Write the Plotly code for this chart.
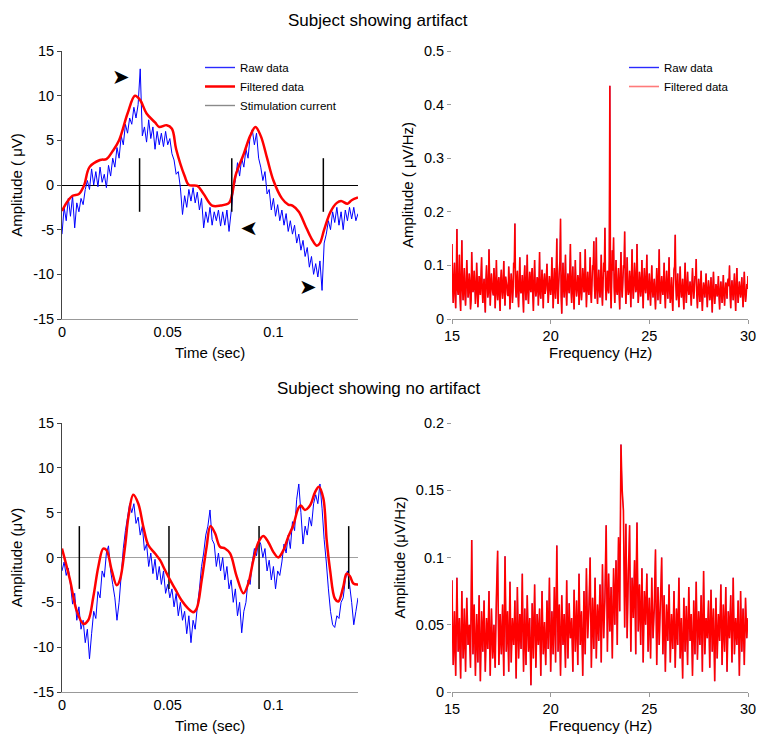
import numpy as np
import plotly.graph_objects as go

# ---------------- DATA ----------------
# Top-left: subject showing artifact (time series, 1 ms steps 0..0.140 s)
raw_top = [-5.5, -2.5, -4.0, -1.5, -3.5, -1.2, -4.8, -2.0, -3.0, -1.5,
           -2.2, -0.5, 0.5, -0.5, 1.8, 0.0, 1.5, -0.2, 2.0, 0.3,
           1.2, -0.3, 2.2, 1.0, 3.0, 2.0, 4.2, 3.0, 5.5, 4.5,
           6.8, 5.8, 7.5, 6.8, 8.7, 7.5, 9.0, 13.0, 5.5, 6.5,
           4.8, 7.3, 5.2, 6.5, 4.0, 6.0, 4.5, 5.8, 4.3, 6.0,
           4.5, 5.2, 3.5, 2.8, 1.2, 1.5, -0.3, -3.3, -1.2, -2.5,
           -0.5, -1.8, -0.3, -2.0, -0.8, -2.8, -1.5, -4.8, -3.0, -4.2,
           -2.5, -4.5, -3.0, -4.0, -2.8, -4.6, -3.0, -4.5, -2.8, -5.2,
           -3.0, -0.5, 0.5, 2.5, 1.0, 3.0, 2.0, 4.0, 3.0, 5.5,
           6.2, 4.5, 5.8, 3.0, 2.0, 0.5, 1.5, -1.0, -0.5, -2.8,
           -1.5, -3.5, -2.2, -4.0, -2.8, -4.5, -3.2, -5.2, -4.0, -5.5,
           -4.5, -6.5, -5.5, -7.3, -6.2, -8.0, -7.0, -9.2, -8.0, -10.0,
           -8.8, -10.3, -8.5, -11.8, -6.5, -5.5, -4.0, -5.0, -3.0, -4.2,
           -2.5, -4.5, -3.0, -5.0, -2.8, -4.0, -2.5, -3.8, -2.5, -4.0,
           -3.2]
filt_top_t = [0.0, 0.0024, 0.005, 0.008, 0.0105, 0.013, 0.018, 0.021, 0.024, 0.027,
              0.031, 0.0345, 0.037, 0.040, 0.044, 0.046, 0.0495, 0.052, 0.054, 0.058,
              0.060, 0.064, 0.067, 0.071, 0.075, 0.079, 0.0805, 0.082, 0.086, 0.089,
              0.0915, 0.094, 0.097, 0.100, 0.104, 0.107, 0.109, 0.112, 0.115, 0.118,
              0.1205, 0.122, 0.124, 0.127, 0.130, 0.132, 0.135, 0.137, 0.140]
filt_top_v = [-2.9, -1.9, -1.2, -1.0, 0.0, 2.0, 2.8, 2.9, 3.8, 5.0,
              8.0, 10.0, 9.5, 8.0, 7.0, 6.5, 6.7, 6.3, 4.0, 1.0,
              0.0, -0.1, -1.0, -2.3, -2.3, -2.0, -1.0, 1.0, 3.5, 5.5,
              6.5, 5.5, 3.0, 0.5, -1.5, -2.2, -2.3, -3.0, -4.5, -6.0,
              -6.8, -6.5, -5.0, -3.0, -2.0, -1.8, -2.1, -1.7, -1.4]
stim_times_top = [0.0367, 0.0803, 0.1236]
stim_amp_top = [3.0, 3.0, 3.0]
arrow_t_top = [0.0279, 0.0882, 0.1165]
arrow_v_top = [12.1, -4.9, -11.4]
arrow_dir_top = [0, 180, 0]

# Bottom-left: subject showing no artifact
raw_bot = [-1.5, -0.5, -2.0, -1.2, -3.0, -5.2, -4.0, -7.0, -5.5, -8.0,
           -7.0, -9.5, -8.0, -11.3, -8.5, -6.0, -6.8, -3.8, -4.5, -1.5,
           -2.2, 0.5, 1.3, -1.5, -3.0, -4.5, -7.0, -5.0, -2.0, 1.0,
           3.0, 4.5, 6.0, 5.0, 6.0, 3.8, 4.5, 2.5, 3.5, 0.8,
           1.5, -1.0, 0.5, -1.8, -0.2, -2.5, -1.0, -3.0, -1.5, -4.0,
           -3.0, -4.5, -3.5, -5.5, -4.0, -6.5, -5.0, -7.0, -6.0, -8.5,
           -6.5, -9.5, -7.0, -8.0, -5.5, -3.5, -1.0, 0.5, 2.5, 3.5,
           5.3, 2.0, 1.5, -1.0, 0.5, -1.5, 0.0, -2.5, -1.0, -3.5,
           -2.5, -5.0, -3.5, -6.5, -5.0, -8.4, -6.0, -5.0, -2.5, -3.0,
           -0.5, 1.0, 0.2, 2.0, 1.5, 0.0, 1.0, -1.5, -0.3, -2.5,
           -1.0, -3.5, -1.5, -2.0, -0.5, 1.5, 0.5, 2.5, 1.0, 4.0,
           3.0, 6.5, 8.2, 5.0, 1.5, 3.5, 2.5, 4.5, 3.5, 6.0,
           7.0, 6.0, 8.2, 5.5, 2.0, -0.5, -3.5, -6.0, -7.5, -7.8,
           -6.5, -6.8, -5.0, -4.5, -2.5, -1.5, -3.0, -5.0, -7.5, -6.0,
           -4.5]
filt_bot_t = [0.0, 0.0038, 0.0069, 0.0101, 0.0124, 0.0148, 0.0172, 0.0195, 0.0211, 0.0235,
              0.0259, 0.0274, 0.0298, 0.0314, 0.0337, 0.0361, 0.0385, 0.0408, 0.044, 0.0464,
              0.0487, 0.0511, 0.0535, 0.0566, 0.0597, 0.0621, 0.0637, 0.0661, 0.0684, 0.0702,
              0.0724, 0.0747, 0.0771, 0.0795, 0.0826, 0.0858, 0.0881, 0.0905, 0.0929, 0.0952,
              0.0976, 0.100, 0.1023, 0.1047, 0.107, 0.1094, 0.1118, 0.113, 0.1149, 0.1173,
              0.1197, 0.1215, 0.1236, 0.1252, 0.1268, 0.1291, 0.1307, 0.133, 0.1346, 0.1362,
              0.1378, 0.140]
filt_bot_v = [1.0, -2.5, -5.9, -7.4, -7.0, -4.4, -1.0, 1.0, 0.8, -1.4,
              -3.1, -2.5, 1.2, 4.5, 7.0, 6.0, 3.4, 1.4, 0.45, -0.3,
              -1.4, -2.5, -3.5, -4.8, -5.7, -6.1, -5.7, -2.5, 1.2, 3.5,
              2.7, 1.2, 1.0, 0.45, -2.1, -4.0, -2.9, -0.3, 1.7, 2.4,
              1.7, 0.6, 0.0, 0.8, 2.3, 3.6, 5.5, 5.8, 5.3, 5.8,
              7.3, 7.9, 6.6, 1.9, -1.4, -4.6, -4.9, -3.3, -1.8, -2.1,
              -2.9, -3.0]
stim_times_bot = [0.0082, 0.0506, 0.0932, 0.1356]
stim_amp_bot = [3.5, 3.5, 3.5, 3.5]

# Spectra, 15-30 Hz (uV/Hz): even bins (..._even) and the bins between them (..._odd)
spec_top_even = [.140, .030, .105, .020, .168, .045, .120, .015, .147, .035, .095, .025, .110, .040, .085, .018, .125, .050, .090, .028,
                 .105, .022, .080, .045, .115, .030, .075, .012, .100, .040, .130, .025, .085, .050, .095, .020, .110, .035, .078, .015,
                 .092, .038, .108, .025, .070, .045, .098, .018, .085, .030, .105, .178, .040, .090, .022, .115, .048, .082, .012, .100,
                 .035, .120, .028, .088, .050, .095, .015, .110, .042, .078, .025, .125, .038, .092, .020, .085, .055, .103, .030, .080,
                 .045, .115, .020, .095, .038, .150, .028, .090, .187, .010, .105, .040, .120, .025, .085, .048, .140, .030, .098, .018,
                 .110, .042, .082, .026, .125, .035, .095, .050, .130, .022, .088, .045, .115, .030, .100, .145, .038, .152, .028, .092,
                 .040, .120, .025, .105, .170, .035, .090, .048, .435, .020, .128, .152, .030, .110, .045, .095, .018, .125, .040, .100,
                 .163, .028, .115, .045, .090, .022, .130, .038, .105, .050, .140, .030, .088, .042, .110, .020, .095, .048, .120, .035,
                 .085, .025, .100, .040, .075, .018, .095, .035, .130, .028, .080, .045, .105, .020, .090, .038, .115, .030, .078, .015,
                 .092, .157, .035, .085, .022, .098, .040, .075, .018, .105, .030, .088, .045, .070, .025, .095, .038, .080, .112, .020,
                 .075, .032, .090, .015, .068, .040, .085, .022, .072, .035, .078, .012, .088, .028, .065, .042, .080, .018, .070, .030,
                 .082, .025, .068, .038, .075, .100, .020, .072, .035, .085, .015, .095, .030, .070, .040, .078, .022, .088, .032, .065,
                 .080]
spec_top_odd = [.060, .072, .048, .085, .055, .066, .040, .078, .058, .070, .045, .062, .075, .052, .068, .035, .080, .057, .064, .050,
                .070, .046, .062, .081, .053, .059, .038, .072, .066, .049, .077, .056, .063, .044, .071, .058, .052, .068, .041, .074,
                .055, .067, .049, .079, .061, .043, .070, .057, .065, .052, .095, .060, .073, .046, .069, .054, .062, .040, .076, .058,
                .071, .050, .064, .057, .083, .045, .068, .059, .052, .074, .063, .048, .066, .055, .070, .047, .078, .061, .053, .067,
                .058, .072, .049, .066, .090, .054, .062, .108, .043, .069, .057, .075, .051, .064, .060, .085, .056, .071, .047, .068,
                .063, .055, .074, .050, .066, .059, .080, .052, .070, .061, .057, .076, .048, .067, .092, .062, .084, .054, .065, .058,
                .073, .051, .069, .088, .060, .064, .055, .110, .062, .075, .090, .058, .070, .053, .066, .049, .078, .060, .068, .095,
                .071, .056, .064, .052, .067, .074, .059, .063, .080, .057, .069, .050, .072, .061, .055, .068, .060, .076, .054, .062,
                .049, .066, .055, .061, .043, .058, .064, .076, .052, .060, .056, .068, .047, .063, .059, .070, .053, .048, .040, .057,
                .098, .062, .054, .045, .060, .057, .052, .041, .064, .055, .061, .058, .050, .047, .062, .059, .053, .075, .044, .051,
                .056, .060, .042, .050, .055, .062, .048, .053, .057, .046, .044, .059, .050, .045, .058, .054, .043, .052, .049, .055,
                .047, .052, .058, .070, .061, .045, .054, .051, .060, .048, .062, .053, .049, .057, .055, .046, .059, .050, .044, .056]
spec_bot_even = [.083, .020, .060, .012, .085, .030, .055, .010, .075, .025, .062, .015, .070, .035, .050, .018, .113, .028, .065, .012,
                 .058, .022, .072, .008, .060, .030, .068, .015, .055, .032, .075, .012, .062, .025, .050, .018, .070, .105, .020, .058,
                 .028, .065, .012, .101, .030, .060, .015, .082, .022, .055, .035, .068, .010, .078, .025, .058, .032, .088, .015, .062,
                 .020, .072, .030, .055, .005, .066, .025, .080, .018, .058, .035, .062, .012, .075, .028, .052, .020, .068, .032, .085,
                 .015, .060, .028, .078, .022, .109, .030, .065, .012, .072, .035, .058, .018, .083, .025, .066, .040, .055, .015, .076,
                 .030, .068, .020, .088, .035, .060, .012, .075, .028, .092, .040, .062, .100, .018, .070, .032, .085, .025, .065, .038,
                 .080, .022, .095, .040, .070, .124, .030, .088, .045, .078, .025, .092, .050, .098, .035, .115, .060, .184, .150, .135,
                 .048, .125, .040, .090, .124, .030, .085, .055, .098, .028, .126, .045, .080, .035, .092, .022, .075, .050, .088, .030,
                 .070, .025, .085, .040, .062, .106, .020, .078, .035, .068, .100, .028, .072, .015, .065, .038, .080, .022, .058, .032,
                 .075, .018, .062, .035, .085, .025, .055, .010, .070, .030, .064, .020, .078, .038, .058, .012, .068, .028, .082, .024,
                 .060, .035, .072, .015, .090, .028, .055, .040, .068, .018, .076, .030, .062, .008, .070, .025, .058, .038, .080, .020,
                 .065, .030, .078, .015, .060, .040, .072, .022, .085, .028, .055, .035, .068, .012, .075, .030, .062, .020, .070, .040,
                 .055]
spec_bot_odd = [.045, .038, .032, .050, .055, .040, .030, .042, .048, .036, .040, .046, .052, .041, .033, .065, .070, .045, .038, .035,
                .040, .048, .035, .033, .045, .050, .039, .034, .044, .052, .037, .041, .043, .036, .031, .045, .088, .060, .037, .042,
                .046, .035, .060, .065, .044, .037, .048, .050, .038, .046, .049, .040, .043, .051, .039, .045, .060, .048, .036, .040,
                .047, .052, .041, .030, .034, .045, .053, .049, .037, .046, .048, .036, .043, .050, .039, .034, .042, .051, .058, .049,
                .036, .045, .052, .049, .068, .070, .047, .038, .042, .054, .045, .037, .050, .053, .044, .051, .047, .035, .046, .052,
                .048, .043, .055, .060, .047, .036, .042, .050, .061, .065, .050, .080, .057, .044, .050, .058, .054, .045, .051, .060,
                .052, .058, .066, .055, .098, .077, .059, .066, .062, .050, .060, .071, .075, .066, .080, .090, .120, .165, .142, .090,
                .085, .082, .064, .105, .076, .058, .070, .077, .062, .095, .085, .062, .056, .064, .058, .049, .063, .070, .060, .052,
                .047, .055, .062, .051, .085, .060, .049, .056, .051, .082, .064, .050, .043, .040, .051, .058, .050, .040, .045, .053,
                .046, .040, .048, .060, .055, .040, .032, .041, .050, .047, .042, .050, .058, .048, .035, .040, .048, .055, .053, .042,
                .048, .053, .044, .052, .059, .041, .047, .054, .043, .047, .053, .046, .035, .039, .047, .041, .048, .059, .050, .042,
                .047, .054, .046, .038, .050, .056, .047, .053, .056, .041, .045, .051, .040, .043, .052, .046, .041, .045, .055, .048]

amp_ticks = [-15, -10, -5, 0, 5, 10, 15]
amp_labels = ["-15", "-10", "-5", "0", "5", "10", "15"]

# ---------------- FIGURE ----------------
# The page body margin is removed (post_script), so figure pixels == window pixels.
OFF = 0
W, H = 758, 735
FONT = "Arial, Liberation Sans, sans-serif"
BLUE, RED = "#0000ff", "#ff0000"

def dom_x(a, b):
    return [(a - OFF) / W, (b - OFF) / W]

def dom_y(top, bottom):
    return [1 - (bottom - OFF) / H, 1 - (top - OFF) / H]

def px(xw):
    return (xw - OFF) / W

def py(yw):
    return 1 - (yw - OFF) / H

def interleave(even, odd):
    out = []
    for i, v in enumerate(even):
        out.append(v)
        if i < len(odd):
            out.append(odd[i])
    return out

spec_top = interleave(spec_top_even, spec_top_odd)
spec_bot = interleave(spec_bot_even, spec_bot_odd)

t_top = np.linspace(0, 0.140, len(raw_top))
t_bot = np.linspace(0, 0.140, len(raw_bot))
f_top = np.linspace(15, 30, len(spec_top))
f_bot = np.linspace(15, 30, len(spec_bot))

def stim_xy(times, amps):
    xs, ys = [], []
    for t, a in zip(times, amps):
        xs += [t, t, None]
        ys += [a, -a, None]
    return xs, ys

fig = go.Figure()

# ---- legend entries (styled samples) ----
fig.add_trace(go.Scatter(x=[None], y=[None], mode="lines", name="Raw data",
                         line=dict(color="#2a2aff", width=1.4), xaxis="x", yaxis="y", legend="legend"))
fig.add_trace(go.Scatter(x=[None], y=[None], mode="lines", name="Filtered data",
                         line=dict(color=RED, width=2.5), xaxis="x", yaxis="y", legend="legend"))
fig.add_trace(go.Scatter(x=[None], y=[None], mode="lines", name="Stimulation current",
                         line=dict(color="#8a8a8a", width=1.4), xaxis="x", yaxis="y", legend="legend"))
fig.add_trace(go.Scatter(x=[None], y=[None], mode="lines", name="Raw data",
                         line=dict(color="#2a2aff", width=1.4), xaxis="x2", yaxis="y2", legend="legend2"))
fig.add_trace(go.Scatter(x=[None], y=[None], mode="lines", name="Filtered data",
                         line=dict(color="#ff7a7a", width=1.6), xaxis="x2", yaxis="y2", legend="legend2"))

# ---- top-left ----
fig.add_trace(go.Scatter(x=t_top, y=raw_top, mode="lines", showlegend=False,
                         line=dict(color=BLUE, width=1, simplify=False), xaxis="x", yaxis="y"))
fig.add_trace(go.Scatter(x=filt_top_t, y=filt_top_v, mode="lines", showlegend=False,
                         line=dict(color=RED, width=2.5, shape="spline", smoothing=1.0),
                         xaxis="x", yaxis="y"))
sx, sy = stim_xy(stim_times_top, stim_amp_top)
fig.add_trace(go.Scatter(x=sx, y=sy, mode="lines", showlegend=False,
                         line=dict(color="#000000", width=1.5), xaxis="x", yaxis="y"))

# ---- top-right ----
fig.add_trace(go.Scatter(x=f_top, y=spec_top, mode="lines", showlegend=False,
                         line=dict(color=BLUE, width=0.5, simplify=False), xaxis="x2", yaxis="y2"))
fig.add_trace(go.Scatter(x=f_top, y=spec_top, mode="lines", showlegend=False,
                         line=dict(color=RED, width=1.6, simplify=False), xaxis="x2", yaxis="y2"))

# ---- bottom-left ----
fig.add_trace(go.Scatter(x=t_bot, y=raw_bot, mode="lines", showlegend=False,
                         line=dict(color=BLUE, width=1, simplify=False), xaxis="x3", yaxis="y3"))
sx, sy = stim_xy(stim_times_bot, stim_amp_bot)
fig.add_trace(go.Scatter(x=sx, y=sy, mode="lines", showlegend=False,
                         line=dict(color="#000000", width=1.5), xaxis="x3", yaxis="y3"))
fig.add_trace(go.Scatter(x=filt_bot_t, y=filt_bot_v, mode="lines", showlegend=False,
                         line=dict(color=RED, width=2.5, shape="spline", smoothing=1.0),
                         xaxis="x3", yaxis="y3"))

# ---- bottom-right ----
fig.add_trace(go.Scatter(x=f_bot, y=spec_bot, mode="lines", showlegend=False,
                         line=dict(color=BLUE, width=0.5, simplify=False), xaxis="x4", yaxis="y4"))
fig.add_trace(go.Scatter(x=f_bot, y=spec_bot, mode="lines", showlegend=False,
                         line=dict(color=RED, width=1.6, simplify=False), xaxis="x4", yaxis="y4"))

tickfont = dict(family=FONT, size=14.5, color="#000")
titlefont = dict(family=FONT, size=15, color="#000")

def time_x(anchor):
    return dict(domain=dom_x(62, 358), anchor=anchor, range=[0, 0.14], tickvals=[0, 0.05, 0.1],
                ticktext=["0", "0.05", "0.1"], showline=True, linecolor="#999", linewidth=1,
                ticks="", showgrid=False, zeroline=False, tickfont=tickfont, automargin=False)

def amp_y(anchor, dom, title, zcolor, zwidth):
    return dict(domain=dom, anchor=anchor, range=[-15, 15], tickvals=amp_ticks, ticktext=amp_labels,
                showline=True, linecolor="#444", linewidth=1, ticks="outside", ticklen=4, tickcolor="#444",
                showgrid=False, zeroline=True, zerolinecolor=zcolor, zerolinewidth=zwidth,
                tickfont=tickfont, automargin=False,
                title=dict(text=title, font=titlefont, standoff=6))

def freq_x(anchor):
    return dict(domain=dom_x(452, 748), anchor=anchor, range=[15, 30], dtick=5,
                showline=True, linecolor="#999", linewidth=1, ticks="outside", ticklen=4,
                tickcolor="#999", showgrid=False, zeroline=False, tickfont=tickfont, automargin=False,
                ticklabeloverflow="allow")

def spec_y(anchor, dom, rng, dt, title):
    return dict(domain=dom, anchor=anchor, range=rng, dtick=dt, showline=False,
                ticks="outside", ticklen=4, tickcolor="#999", showgrid=False, zeroline=False,
                tickfont=tickfont, automargin=False,
                title=dict(text=title, font=titlefont, standoff=6))

top_dom = dom_y(51, 319)
bot_dom = dom_y(423, 692)

fig.update_layout(
    width=W, height=H, margin=dict(l=0, r=0, t=0, b=0, autoexpand=False),
    paper_bgcolor="white", plot_bgcolor="white",
    font=dict(family=FONT, color="#000"),
    xaxis=time_x("y"),
    yaxis=amp_y("x", top_dom, "Amplitude ( μV)", "#000000", 1),
    xaxis2=freq_x("y2"),
    yaxis2=spec_y("x2", top_dom, [0, 0.5], 0.1, "Amplitude ( μV/Hz)"),
    xaxis3=time_x("y3"),
    yaxis3=amp_y("x3", bot_dom, "Amplitude (μV)", "#a0a0a0", 1.5),
    xaxis4=freq_x("y4"),
    yaxis4=spec_y("x4", bot_dom, [0, 0.2], 0.05, "Amplitude (μV/Hz)"),
    legend=dict(x=px(200), y=py(53), xanchor="left", yanchor="top", traceorder="normal",
                bgcolor="rgba(0,0,0,0)", font=dict(family=FONT, size=11.5), tracegroupgap=0),
    legend2=dict(x=px(624), y=py(53), xanchor="left", yanchor="top", traceorder="normal",
                 bgcolor="rgba(0,0,0,0)", font=dict(family=FONT, size=11.5), tracegroupgap=0),
)

annotations = [
    dict(text="Subject showing artifact", x=px(378), y=py(20), xref="paper", yref="paper",
         showarrow=False, font=dict(family=FONT, size=17), xanchor="center", yanchor="middle"),
    dict(text="Subject showing no artifact", x=px(378), y=py(388), xref="paper", yref="paper",
         showarrow=False, font=dict(family=FONT, size=17), xanchor="center", yanchor="middle"),
]
# x-axis titles
for txt, xc, yc in [("Time (sec)", 210, 352), ("Frequency (Hz)", 600, 352),
                    ("Time (sec)", 210, 725), ("Frequency (Hz)", 600, 725)]:
    annotations.append(dict(text=txt, x=px(xc), y=py(yc), xref="paper", yref="paper",
                            showarrow=False, font=titlefont, xanchor="center", yanchor="middle"))
for t, v, ang in zip(arrow_t_top, arrow_v_top, arrow_dir_top):
    annotations.append(dict(text="➤", x=t, y=v, xref="x", yref="y", showarrow=False,
                            textangle=ang, font=dict(family="DejaVu Sans", size=21, color="#000"),
                            xanchor="center", yanchor="middle"))
fig.update_layout(annotations=annotations)

fig.write_html("out.html", config={"displayModeBar": False, "staticPlot": True},
               post_script="document.body.style.margin='0px';document.body.style.overflow='hidden';")
